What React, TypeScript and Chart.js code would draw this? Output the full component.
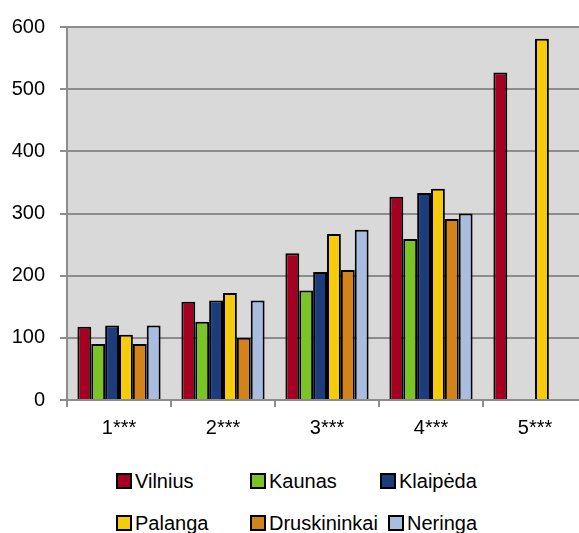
import React, { useEffect, useRef } from "react";
import { Chart, registerables } from "chart.js";

Chart.register(...registerables);

const categories = ["1***", "2***", "3***", "4***", "5***"];
const vilnius = [118, 158, 236, 327, 527];
const kaunas = [90, 126, 176, 259, null];
const klaipeda = [120, 160, 206, 333, null];
const palanga = [105, 172, 267, 340, 581];
const druskininkai = [90, 100, 209, 291, null];
const neringa = [120, 160, 274, 300, null];

const seriesNames = ["Vilnius", "Kaunas", "Klaipėda", "Palanga", "Druskininkai", "Neringa"];
const seriesColors = ["#a50021", "#7ac426", "#1b3d7b", "#f5cb0c", "#d4821a", "#a9bde0"];
const yTicks = [0, 100, 200, 300, 400, 500, 600];

const FONT = "'Liberation Sans', Arial, sans-serif";
const GRID = "#8c8c8c";

const legendPos = [
  { left: 116, top: 481 },
  { left: 250, top: 481 },
  { left: 380, top: 481 },
  { left: 116, top: 523 },
  { left: 250, top: 523 },
  { left: 388, top: 523 },
];

export default function App() {
  const ref = useRef<HTMLCanvasElement | null>(null);
  useEffect(() => {
    document.body.style.margin = "0";
    document.body.style.overflow = "hidden";
    const values = [vilnius, kaunas, klaipeda, palanga, druskininkai, neringa];
    const bgPlugin = {
      id: "plotbg",
      beforeDraw(chart: any) {
        const { ctx, chartArea } = chart;
        ctx.save();
        ctx.fillStyle = "#d9d9d9";
        ctx.fillRect(chartArea.left, chartArea.top, chartArea.right - chartArea.left, chartArea.bottom - chartArea.top);
        ctx.restore();
      },
    };
    const chart = new Chart(ref.current as HTMLCanvasElement, {
      type: "bar",
      data: {
        labels: categories,
        datasets: values.map((v, i) => ({
          label: seriesNames[i],
          data: v as any,
          backgroundColor: seriesColors[i],
          borderColor: "#000000",
          borderWidth: 2,
          categoryPercentage: 0.8,
          barPercentage: 1.0,
        })),
      },
      options: {
        responsive: false,
        animation: false,
        layout: { padding: { top: 24, left: 12, right: 13, bottom: 20 } },
        plugins: { legend: { display: false }, tooltip: { enabled: false } },
        scales: {
          x: {
            afterFit: (scale: any) => {
              scale.height = 40;
            },
            grid: { display: true, drawOnChartArea: false, drawTicks: true, tickLength: 7, color: GRID, lineWidth: 2, offset: true },
            border: { display: true, color: GRID, width: 2 },
            ticks: { color: "#000", font: { family: FONT, size: 20 }, padding: 9 },
          },
          y: {
            min: 0,
            max: 600,
            afterBuildTicks: (scale: any) => {
              scale.ticks = yTicks.map((v) => ({ value: v }));
            },
            afterFit: (scale: any) => {
              scale.width = 55;
            },
            grid: { color: GRID, lineWidth: 2, tickLength: 7 },
            border: { display: true, color: GRID, width: 2 },
            ticks: { color: "#000", font: { family: FONT, size: 20 }, padding: 15 },
          },
        },
      },
      plugins: [bgPlugin],
    });
    return () => chart.destroy();
  }, []);
  return (
    <div style={{ position: "relative", width: 579, height: 533, overflow: "hidden", fontFamily: FONT }}>
      <canvas ref={ref} width={600} height={460} style={{ position: "absolute", left: 0, top: 0 }} />
      {seriesNames.map((n, i) => (
        <div
          key={n}
          style={{
            position: "absolute",
            left: legendPos[i].left,
            top: legendPos[i].top - 12,
            height: 24,
            display: "flex",
            alignItems: "center",
            fontSize: 20,
            color: "#000",
            whiteSpace: "nowrap",
          }}
        >
          <span
            style={{
              display: "inline-block",
              width: 12,
              height: 12,
              background: seriesColors[i],
              border: "2px solid #000",
              marginRight: 3,
            }}
          />
          {n}
        </div>
      ))}
    </div>
  );
}
